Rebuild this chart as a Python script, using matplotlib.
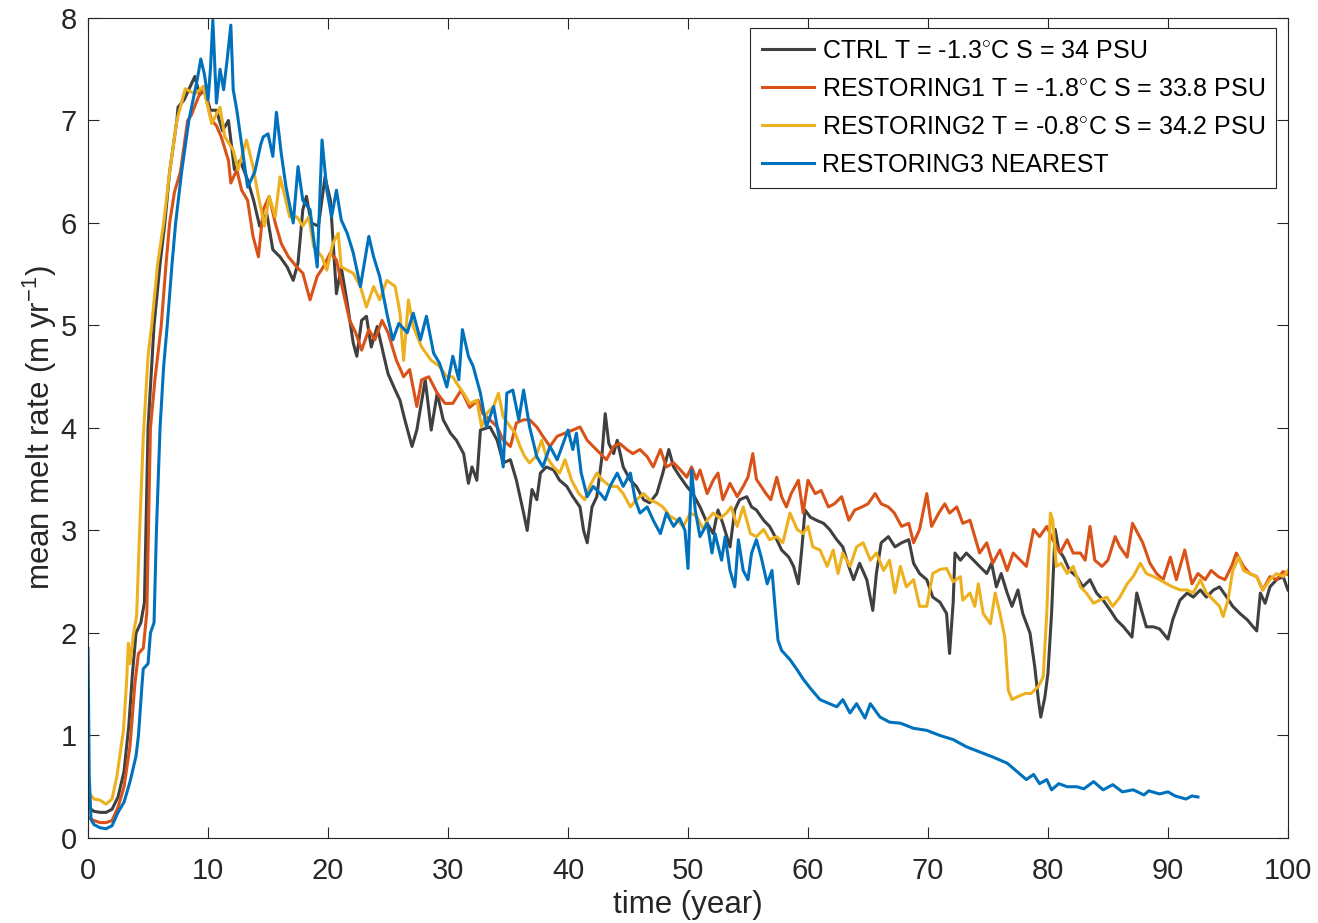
import matplotlib
matplotlib.use('Agg')
import matplotlib.pyplot as plt
import numpy as np

plt.rcParams['font.family'] = ['Liberation Sans', 'DejaVu Sans']
plt.rcParams['mathtext.fontset'] = 'custom'
plt.rcParams['mathtext.rm'] = 'Liberation Sans'
plt.rcParams['mathtext.it'] = 'Liberation Sans:italic'

# (time in years, mean melt rate in m/yr)
ctrl = [(0, 0.3), (0.5, 0.26), (1, 0.25), (1.5, 0.25), (2, 0.28), (2.5, 0.4), (3, 0.65), (3.4, 1.1),
        (3.7, 1.6), (4.0, 2.0), (4.4, 2.1), (4.7, 2.3), (5.0, 4.0), (5.5, 5.0), (6.0, 5.6), (6.4, 6.0),
        (6.8, 6.5), (7.4, 7.0), (7.5, 7.13), (8.0, 7.2), (8.9, 7.43), (9.3, 7.25), (9.7, 7.3), (10.2, 7.1),
        (10.7, 7.1), (11.2, 6.9), (11.7, 7.0), (12.2, 6.52), (12.67, 6.61), (13.3, 6.42), (13.8, 6.22),
        (14.3, 5.97), (14.9, 6.09), (15.4, 5.74), (16.0, 5.67), (16.6, 5.57), (17.1, 5.44), (17.5, 5.61),
        (17.9, 6.13), (18.2, 6.26), (18.6, 6.0), (19.2, 5.97), (19.75, 6.45), (20.2, 6.22), (20.7, 5.31),
        (21.1, 5.57), (21.6, 5.22), (22.1, 4.83), (22.4, 4.7), (22.8, 5.05), (23.2, 5.09), (23.6, 4.79),
        (24.1, 4.99), (24.6, 4.73), (25.0, 4.53), (25.6, 4.37), (26.0, 4.27), (26.4, 4.08), (27.0, 3.82),
        (27.4, 3.98), (28.1, 4.47), (28.6, 3.98), (29.1, 4.34), (29.6, 4.08), (30.2, 3.95), (30.7, 3.88),
        (31.3, 3.75), (31.7, 3.46), (32.0, 3.62), (32.4, 3.49), (32.7, 3.98), (33.5, 4.01), (34.1, 3.88),
        (34.6, 3.66), (35.2, 3.69), (35.7, 3.49), (36.3, 3.17), (36.6, 3.0), (37.0, 3.4), (37.4, 3.3),
        (37.7, 3.56), (38.2, 3.62), (38.8, 3.59), (39.3, 3.49), (39.9, 3.43), (40.4, 3.33), (41.0, 3.23),
        (41.3, 3.0), (41.6, 2.88), (42.0, 3.23), (42.4, 3.33), (42.8, 3.69), (43.1, 4.14), (43.4, 3.85),
        (43.8, 3.75), (44.1, 3.88), (44.6, 3.62), (45.2, 3.49), (45.7, 3.43), (46.3, 3.3), (46.8, 3.27),
        (47.4, 3.36), (47.9, 3.56), (48.4, 3.79), (48.8, 3.62), (49.3, 3.53), (49.9, 3.43), (50.4, 3.36),
        (51.0, 3.23), (51.6, 3.07), (52.1, 2.97), (52.5, 3.2), (52.9, 3.07), (53.5, 2.84), (53.9, 3.2),
        (54.3, 3.3), (54.9, 3.33), (55.3, 3.23), (55.7, 3.2), (56.3, 3.1), (56.8, 3.04), (57.4, 2.91),
        (57.8, 2.81), (58.4, 2.74), (58.8, 2.65), (59.2, 2.48), (59.5, 2.84), (59.75, 3.2), (60.2, 3.13),
        (60.7, 3.1), (61.3, 3.07), (61.8, 3.01), (62.4, 2.91), (62.9, 2.84), (63.4, 2.65), (63.8, 2.52),
        (64.3, 2.68), (64.9, 2.52), (65.4, 2.22), (65.7, 2.58), (66.1, 2.88), (66.7, 2.94), (67.25, 2.84),
        (67.8, 2.88), (68.4, 2.91), (68.8, 2.68), (69.3, 2.58), (69.9, 2.52), (70.4, 2.35), (71.0, 2.3),
        (71.55, 2.19), (71.8, 1.8), (72.1, 2.3), (72.25, 2.78), (72.7, 2.71), (73.2, 2.78), (73.8, 2.71),
        (74.3, 2.65), (74.9, 2.58), (75.3, 2.68), (75.7, 2.45), (76.1, 2.58), (76.6, 2.39), (77.0, 2.26),
        (77.5, 2.42), (77.9, 2.19), (78.5, 2.0), (78.9, 1.67), (79.2, 1.35), (79.4, 1.18), (79.75, 1.38),
        (80.0, 1.61), (80.3, 2.19), (80.6, 3.01), (80.9, 2.81), (81.3, 2.74), (81.8, 2.61), (82.4, 2.55),
        (82.9, 2.45), (83.5, 2.52), (84.05, 2.39), (84.6, 2.32), (85.2, 2.22), (85.7, 2.13), (86.3, 2.06),
        (87.0, 1.96), (87.4, 2.39), (87.8, 2.22), (88.2, 2.06), (88.8, 2.06), (89.3, 2.04), (90.0, 1.94),
        (90.4, 2.13), (91.0, 2.32), (91.6, 2.39), (92.1, 2.35), (92.7, 2.42), (93.2, 2.35), (93.8, 2.42),
        (94.3, 2.45), (94.9, 2.35), (95.4, 2.26), (96.0, 2.19), (96.6, 2.13), (97.1, 2.06), (97.4, 2.02),
        (97.7, 2.39), (98.1, 2.29), (98.5, 2.45), (99.05, 2.52), (99.6, 2.55), (100, 2.42)]

restoring1 = [(0, 0.2), (0.5, 0.17), (1, 0.15), (1.5, 0.15), (2, 0.17), (2.5, 0.3), (3, 0.5), (3.5, 0.9),
              (3.9, 1.5), (4.2, 1.8), (4.6, 1.85), (4.9, 2.2), (5.2, 4.0), (5.6, 4.5), (6.1, 5.0), (6.5, 5.6),
              (6.8, 6.0), (7.2, 6.3), (7.7, 6.5), (8.3, 7.0), (8.6, 7.05), (9.2, 7.23), (9.6, 7.33), (10.3, 7.0),
              (10.7, 6.95), (11.1, 6.84), (11.7, 6.61), (11.9, 6.39), (12.4, 6.52), (12.8, 6.32), (13.3, 6.22),
              (13.75, 5.87), (14.2, 5.67), (14.6, 6.13), (15.1, 6.26), (15.6, 6.0), (16.1, 5.8), (16.7, 5.67),
              (17.4, 5.57), (17.9, 5.51), (18.5, 5.25), (19.1, 5.48), (19.6, 5.57), (20.2, 5.71), (20.7, 5.64),
              (21.3, 5.31), (21.8, 5.05), (22.3, 4.93), (22.8, 4.76), (23.4, 4.96), (23.9, 4.86), (24.5, 5.05),
              (25.0, 4.93), (25.7, 4.66), (26.3, 4.5), (26.8, 4.57), (27.4, 4.21), (27.8, 4.47), (28.4, 4.5),
              (29.1, 4.34), (29.75, 4.24), (30.4, 4.24), (31.1, 4.37), (31.8, 4.2), (32.5, 4.27), (32.9, 4.14),
              (33.5, 4.08), (34.1, 4.01), (34.6, 3.88), (35.2, 3.82), (35.7, 4.05), (36.3, 4.08), (36.8, 4.08),
              (37.4, 4.01), (37.9, 3.92), (38.5, 3.82), (39.1, 3.92), (39.75, 3.95), (40.4, 3.98), (41.0, 4.01),
              (41.6, 3.88), (42.1, 3.82), (42.7, 3.75), (43.2, 3.69), (43.8, 3.82), (44.3, 3.85), (44.9, 3.79),
              (45.4, 3.75), (46.0, 3.79), (46.6, 3.72), (47.1, 3.62), (47.7, 3.79), (48.2, 3.62), (48.8, 3.66),
              (49.3, 3.6), (49.9, 3.52), (50.3, 3.62), (50.7, 3.5), (51.0, 3.59), (51.6, 3.36), (52.1, 3.49),
              (52.5, 3.56), (52.9, 3.3), (53.5, 3.46), (54.1, 3.33), (54.6, 3.43), (55.0, 3.52), (55.4, 3.75),
              (55.7, 3.5), (56.1, 3.43), (56.5, 3.36), (56.9, 3.3), (57.4, 3.52), (57.8, 3.33), (58.2, 3.23),
              (58.6, 3.36), (59.2, 3.49), (59.6, 3.17), (60.0, 3.49), (60.6, 3.36), (61.1, 3.39), (61.7, 3.23),
              (62.2, 3.26), (62.8, 3.33), (63.4, 3.1), (63.9, 3.2), (64.5, 3.23), (65.0, 3.26), (65.6, 3.36),
              (66.1, 3.26), (66.7, 3.23), (67.2, 3.17), (67.8, 3.04), (68.4, 3.07), (68.8, 2.88), (69.3, 3.01),
              (69.9, 3.36), (70.3, 3.04), (70.9, 3.17), (71.4, 3.26), (71.8, 3.17), (72.4, 3.23), (72.9, 3.07),
              (73.5, 3.1), (73.9, 2.94), (74.3, 2.78), (74.9, 2.88), (75.4, 2.68), (76.0, 2.81), (76.6, 2.61),
              (77.1, 2.78), (77.7, 2.71), (78.2, 2.65), (78.8, 3.01), (79.3, 2.94), (79.9, 3.04), (80.4, 2.91),
              (81.0, 2.78), (81.6, 2.91), (82.1, 2.78), (82.7, 2.78), (83.1, 2.71), (83.5, 3.04), (83.9, 2.71),
              (84.5, 2.65), (85.0, 2.71), (85.6, 2.94), (86.0, 2.84), (86.6, 2.74), (87.05, 3.07), (87.5, 2.97),
              (87.9, 2.88), (88.5, 2.68), (89.05, 2.58), (89.6, 2.52), (90.2, 2.74), (90.7, 2.52), (91.4, 2.81),
              (92.0, 2.48), (92.5, 2.58), (93.1, 2.52), (93.6, 2.61), (94.2, 2.55), (94.75, 2.52), (95.3, 2.65),
              (95.7, 2.78), (96.3, 2.65), (96.8, 2.58), (97.4, 2.55), (97.9, 2.42), (98.5, 2.55), (99.05, 2.52),
              (99.6, 2.6), (100, 2.57)]

restoring2 = [(0, 0.45), (0.5, 0.38), (1, 0.37), (1.5, 0.33), (2, 0.38), (2.4, 0.6), (2.95, 1.05), (3.2, 1.5),
              (3.36, 1.9), (3.5, 1.7), (3.8, 2.0), (4.05, 2.17), (4.3, 3.0), (4.6, 3.9), (5.0, 4.7), (5.3, 5.0),
              (5.8, 5.6), (6.3, 6.0), (6.8, 6.5), (7.4, 7.0), (8.1, 7.31), (8.9, 7.26), (9.6, 7.33), (10.3, 6.97),
              (11.0, 7.13), (11.4, 6.84), (12.1, 6.71), (12.5, 6.52), (13.2, 6.81), (13.75, 6.55), (14.2, 6.26),
              (14.7, 5.97), (15.1, 6.26), (15.6, 6.06), (16.0, 6.45), (16.4, 6.26), (16.8, 6.06), (17.4, 6.06),
              (17.9, 5.97), (18.4, 6.06), (18.8, 5.77), (19.5, 5.67), (19.9, 5.54), (20.4, 5.8), (20.85, 5.9),
              (21.1, 5.57), (21.6, 5.54), (22.1, 5.51), (22.7, 5.38), (23.2, 5.18), (23.8, 5.38), (24.3, 5.25),
              (24.9, 5.44), (25.6, 5.38), (26.0, 5.12), (26.3, 4.66), (26.7, 5.25), (27.1, 4.99), (27.8, 4.79),
              (28.6, 4.66), (29.3, 4.6), (29.9, 4.5), (30.4, 4.5), (30.7, 4.44), (31.3, 4.34), (31.8, 4.24),
              (32.4, 4.27), (32.8, 4.01), (33.2, 4.14), (33.8, 4.21), (34.2, 4.34), (34.6, 4.11), (35.2, 4.01),
              (35.6, 3.95), (36.0, 3.82), (36.4, 3.72), (36.8, 3.66), (37.3, 3.72), (37.8, 3.88), (38.2, 3.72),
              (38.8, 3.62), (39.3, 3.56), (39.75, 3.69), (40.3, 3.49), (40.9, 3.36), (41.4, 3.3), (41.8, 3.43),
              (42.4, 3.56), (42.9, 3.49), (43.5, 3.43), (44.1, 3.43), (44.6, 3.36), (45.2, 3.23), (45.7, 3.3),
              (46.3, 3.36), (46.8, 3.3), (47.4, 3.27), (47.9, 3.23), (48.5, 3.14), (49.1, 3.1), (49.6, 3.04),
              (50.2, 3.17), (50.7, 3.14), (51.3, 3.01), (51.6, 3.1), (52.1, 3.17), (52.7, 3.12), (53.2, 3.17),
              (53.6, 3.23), (54.1, 3.04), (54.6, 3.23), (55.2, 2.97), (55.7, 2.94), (56.3, 3.01), (56.8, 2.91),
              (57.4, 2.94), (57.9, 2.88), (58.5, 3.17), (59.1, 3.01), (59.6, 2.97), (60.0, 3.04), (60.4, 2.84),
              (61.0, 2.81), (61.6, 2.65), (62.1, 2.81), (62.5, 2.58), (62.9, 2.78), (63.5, 2.65), (64.05, 2.84),
              (64.6, 2.88), (65.2, 2.71), (65.7, 2.78), (66.3, 2.61), (66.8, 2.71), (67.25, 2.39), (67.7, 2.65),
              (68.2, 2.45), (68.8, 2.52), (69.3, 2.26), (69.9, 2.26), (70.4, 2.58), (71.0, 2.62), (71.55, 2.63),
              (72.1, 2.5), (72.7, 2.55), (72.9, 2.32), (73.5, 2.39), (73.9, 2.26), (74.2, 2.48), (74.6, 2.19),
              (75.2, 2.09), (75.6, 2.39), (76.0, 2.19), (76.4, 1.96), (76.7, 1.44), (77.0, 1.35), (77.5, 1.38),
              (78.1, 1.41), (78.6, 1.41), (79.2, 1.48), (79.6, 1.57), (79.9, 2.19), (80.2, 3.17), (80.4, 3.1),
              (80.7, 2.65), (81.1, 2.68), (81.6, 2.58), (82.1, 2.65), (82.7, 2.45), (83.2, 2.39), (83.8, 2.29),
              (84.3, 2.32), (84.9, 2.35), (85.4, 2.26), (86.0, 2.35), (86.6, 2.48), (87.1, 2.55), (87.7, 2.68),
              (88.2, 2.58), (88.8, 2.55), (89.3, 2.52), (89.9, 2.48), (90.4, 2.45), (91.0, 2.42), (91.6, 2.42),
              (92.1, 2.39), (92.7, 2.52), (93.2, 2.39), (93.8, 2.32), (94.3, 2.26), (94.6, 2.16), (95.0, 2.32),
              (95.4, 2.61), (95.9, 2.74), (96.3, 2.61), (96.8, 2.58), (97.4, 2.55), (97.9, 2.42), (98.5, 2.52),
              (99.05, 2.58), (99.6, 2.55), (100, 2.61)]

restoring3 = [(0, 1.85), (0.1, 0.6), (0.25, 0.18), (0.5, 0.13), (1, 0.1), (1.5, 0.09), (2, 0.12), (2.5, 0.25),
              (3.0, 0.35), (3.5, 0.55), (4.0, 0.8), (4.2, 1.0), (4.5, 1.5), (4.6, 1.65), (5.0, 1.7), (5.2, 2.0),
              (5.5, 2.1), (5.7, 3.0), (6.0, 4.0), (6.3, 4.6), (6.6, 5.0), (7.0, 5.6), (7.3, 6.0), (7.8, 6.5),
              (8.4, 7.0), (9.1, 7.4), (9.4, 7.6), (9.7, 7.45), (10.0, 7.2), (10.2, 7.5), (10.4, 7.98), (10.7, 7.17),
              (11.0, 7.5), (11.3, 7.3), (11.6, 7.6), (11.9, 7.93), (12.1, 7.3), (12.4, 7.1), (12.8, 6.77),
              (13.3, 6.35), (13.9, 6.5), (14.4, 6.77), (14.6, 6.84), (15.0, 6.87), (15.4, 6.65), (15.7, 7.08),
              (16.1, 6.68), (16.5, 6.35), (17.1, 6.0), (17.5, 6.55), (17.9, 6.22), (18.5, 6.13), (19.1, 5.57),
              (19.5, 6.81), (19.9, 6.32), (20.3, 6.06), (20.7, 6.32), (21.1, 6.03), (21.6, 5.9), (22.1, 5.71),
              (22.7, 5.38), (23.4, 5.87), (23.8, 5.67), (24.3, 5.48), (24.9, 5.12), (25.4, 4.86), (25.9, 5.02),
              (26.6, 4.93), (27.1, 5.12), (27.7, 4.86), (28.2, 5.09), (28.8, 4.73), (29.3, 4.63), (29.9, 4.4),
              (30.4, 4.7), (30.9, 4.47), (31.2, 4.96), (31.7, 4.7), (32.1, 4.6), (32.7, 4.34), (33.2, 4.01),
              (33.8, 4.21), (34.3, 3.88), (34.6, 3.62), (34.9, 4.34), (35.4, 4.37), (35.9, 4.08), (36.3, 4.37),
              (36.8, 4.01), (37.4, 3.72), (37.9, 3.62), (38.5, 3.82), (39.1, 3.69), (39.6, 3.85), (40.0, 3.98),
              (40.4, 3.79), (40.7, 3.95), (41.1, 3.56), (41.6, 3.33), (42.1, 3.43), (42.7, 3.36), (43.1, 3.3),
              (43.5, 3.43), (44.1, 3.56), (44.6, 3.43), (45.2, 3.56), (45.6, 3.3), (46.0, 3.17), (46.6, 3.23),
              (47.1, 3.1), (47.7, 2.97), (48.2, 3.17), (48.8, 3.04), (49.3, 3.12), (49.75, 3.0), (50.0, 2.63),
              (50.3, 3.59), (50.6, 3.2), (51.0, 2.94), (51.6, 3.07), (52.0, 2.78), (52.25, 2.97), (52.8, 2.71),
              (53.1, 2.94), (53.5, 2.61), (53.9, 2.45), (54.2, 2.91), (54.6, 2.61), (55.0, 2.52), (55.3, 2.78),
              (55.7, 2.91), (56.1, 2.74), (56.6, 2.48), (57.0, 2.61), (57.25, 2.26), (57.5, 1.93), (57.8, 1.83),
              (58.5, 1.74), (59.1, 1.64), (59.6, 1.55), (60.2, 1.46), (61.0, 1.35), (61.8, 1.31), (62.4, 1.28),
              (62.9, 1.35), (63.5, 1.22), (64.05, 1.31), (64.75, 1.17), (65.2, 1.31), (66.0, 1.18), (66.8, 1.13),
              (67.7, 1.12), (68.8, 1.07), (69.9, 1.05), (71.0, 1.0), (72.1, 0.96), (73.2, 0.89), (74.3, 0.84),
              (75.4, 0.79), (76.6, 0.73), (77.4, 0.65), (78.2, 0.57), (78.8, 0.62), (79.3, 0.53), (79.9, 0.57),
              (80.3, 0.47), (80.9, 0.53), (81.6, 0.5), (82.4, 0.5), (83.0, 0.48), (83.8, 0.55), (84.6, 0.47),
              (85.4, 0.52), (86.2, 0.45), (87.1, 0.47), (88.0, 0.42), (88.4, 0.46), (89.3, 0.43), (90.0, 0.45),
              (90.6, 0.41), (91.5, 0.38), (92.0, 0.41), (92.5, 0.4)]

labels = ['CTRL T = -1.3$^{\\circ}$C S = 34 PSU',
          'RESTORING1 T = -1.8$^{\\circ}$C S = 33.8 PSU',
          'RESTORING2 T = -0.8$^{\\circ}$C S = 34.2 PSU',
          'RESTORING3 NEAREST']
colors = ['#404040', '#D95319', '#EDB120', '#0072BD']

fig = plt.figure(figsize=(13.18, 9.23), dpi=100)
ax = fig.add_axes([0.0668, 0.0921, 0.9104, 0.8884])

for series, lab, col in zip([ctrl, restoring1, restoring2, restoring3], labels, colors):
    arr = np.array(series)
    ax.plot(arr[:, 0], arr[:, 1], color=col, lw=2.2, label=lab)

ax.set_xlim(0, 100)
ax.set_ylim(0, 8)
ax.set_xticks(np.arange(0, 101, 10))
ax.set_yticks(np.arange(0, 9, 1))
ax.tick_params(direction='in', top=True, right=True, length=8, width=0.8,
               labelsize=21, colors='#262626')
ax.tick_params(axis='x', pad=14)
ax.tick_params(axis='y', pad=8)
for sp in ax.spines.values():
    sp.set_color('#262626')
    sp.set_linewidth(0.8)

ax.set_xlabel('time (year)', fontsize=22.5, color='#262626', labelpad=3)
ax.set_ylabel('mean melt rate (m yr$^{-1}$)', fontsize=22.5, color='#262626', labelpad=1)

leg = ax.legend(loc='upper right', bbox_to_anchor=(0.99, 0.988), fontsize=18,
                fancybox=False, framealpha=1, edgecolor='#262626', borderaxespad=0,
                handlelength=2.1, handletextpad=0.3, labelspacing=0.56, borderpad=0.45)
leg.get_frame().set_linewidth(0.8)

fig.savefig('out.png', dpi=100)
